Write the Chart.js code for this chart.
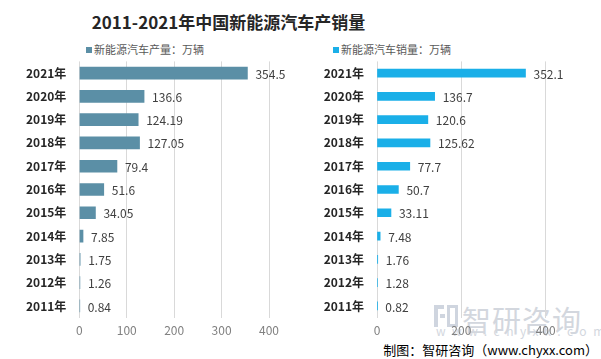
<!DOCTYPE html>
<html>
<head>
<meta charset="utf-8">
<script src="https://cdn.jsdelivr.net/npm/chart.js@4.4.0/dist/chart.umd.min.js"></script>
<style>
  html, body { margin: 0; padding: 0; background: #ffffff; }
  body { width: 601px; height: 359px; position: relative; overflow: hidden;
         font-family: "Noto Sans CJK SC", "Noto Sans", sans-serif; }
  .abs { position: absolute; white-space: nowrap; }
  #title { left: 0; width: 457px; top: 8px; text-align: center; font-size: 17px; font-weight: bold; color: #262626; line-height: 28px; }
  .legend { font-size: 11px; color: #595959; line-height: 14px; top: 42px; }
  .legend i { display: inline-block; width: 6px; height: 6px; margin-right: 2px; vertical-align: 1px; }
  #footer { right: 3px; top: 340px; font-size: 13px; color: #000; line-height: 20px; }
  #wm1 { left: 462px; top: 302px; font-size: 29px; color: #d3d7de; line-height: 34px; letter-spacing: 1px; }
  #wm2 { left: 436px; top: 324px; font-size: 12px; color: #d3d7de; letter-spacing: 6.5px; line-height: 14px; }
  #logo { left: 434px; top: 305px; width: 24px; height: 22px; }
  canvas { position: absolute; top: 0; }
</style>
</head>
<body>
<div id="wm1" class="abs">智研咨询</div>
<div id="wm2" class="abs">www.chyxx.com</div>
<div id="logo" class="abs">
  <div style="position:absolute;left:0;top:0;width:10px;height:4px;background:#cfd5df"></div>
  <div style="position:absolute;left:0;top:0;width:4px;height:22px;background:#cfd5df"></div>
  <div style="position:absolute;left:6px;top:9px;width:5px;height:4px;background:#cfd5df"></div>
  <div style="position:absolute;left:13px;top:0;width:11px;height:22px;border:3px solid #cfd5df;box-sizing:border-box"></div>
</div>
<div id="title" class="abs">2011-2021年中国新能源汽车产销量</div>
<div class="abs legend" style="left:86px"><i style="background:#5b8fa6"></i>新能源汽车产量：万辆</div>
<div class="abs legend" style="left:333px"><i style="background:#1aafe8"></i>新能源汽车销量：万辆</div>
<div id="footer" class="abs">制图：智研咨询（www.chyxx.com）</div>
<canvas id="c1" width="300" height="359" style="left:0;width:300px;height:359px"></canvas>
<canvas id="c2" width="301" height="359" style="left:300px;width:301px;height:359px"></canvas>
<script>
const categories = ['2021年','2020年','2019年','2018年','2017年','2016年','2015年','2014年','2013年','2012年','2011年'];
const production = [354.5, 136.6, 124.19, 127.05, 79.4, 51.6, 34.05, 7.85, 1.75, 1.26, 0.84];
const sales = [352.1, 136.7, 120.6, 125.62, 77.7, 50.7, 33.11, 7.48, 1.76, 1.28, 0.82];
const productionName = '新能源汽车产量：万辆';
const salesName = '新能源汽车销量：万辆';

const FONT = '"Noto Sans CJK SC", "Noto Sans", sans-serif';

const valueLabels = {
  id: 'valueLabels',
  afterDatasetsDraw(chart) {
    const ctx = chart.ctx;
    ctx.save();
    ctx.font = '12px ' + FONT;
    ctx.fillStyle = '#404040';
    ctx.textAlign = 'left';
    ctx.textBaseline = 'middle';
    chart.data.datasets.forEach((ds, i) => {
      chart.getDatasetMeta(i).data.forEach((el, j) => {
        ctx.fillText(String(ds.data[j]), el.x + 8, el.y + 1);
      });
    });
    ctx.restore();
  }
};

function makeChart(id, name, data, color, thickness, yWidth, step, padRight) {
  return new Chart(document.getElementById(id), {
    type: 'bar',
    data: { labels: categories, datasets: [{ label: name, data: data, backgroundColor: color, barThickness: thickness }] },
    options: {
      indexAxis: 'y',
      responsive: false,
      animation: false,
      layout: { padding: { top: 61.4, bottom: 16.4, left: 0, right: padRight } },
      plugins: { legend: { display: false }, tooltip: { enabled: false } },
      scales: {
        x: {
          min: 0, max: 400,
          ticks: { stepSize: step, padding: 6, color: '#808080', font: { size: 12, family: FONT } },
          grid: { color: '#d9d9d9', drawTicks: false },
          border: { display: false },
          afterFit(s) { s.height = 25; }
        },
        y: {
          ticks: { padding: 13, color: '#262626', font: { size: 12, weight: 'bold', family: FONT } },
          grid: { display: false, drawTicks: false },
          border: { display: false },
          afterFit(s) { s.width = yWidth; }
        }
      }
    },
    plugins: [valueLabels]
  });
}

makeChart('c1', productionName, production, '#5b8fa6', 12, 79.3, 100, 31);
makeChart('c2', salesName, sales, '#1aafe8', 8, 77, 200, 55.3);
</script>
</body>
</html>
